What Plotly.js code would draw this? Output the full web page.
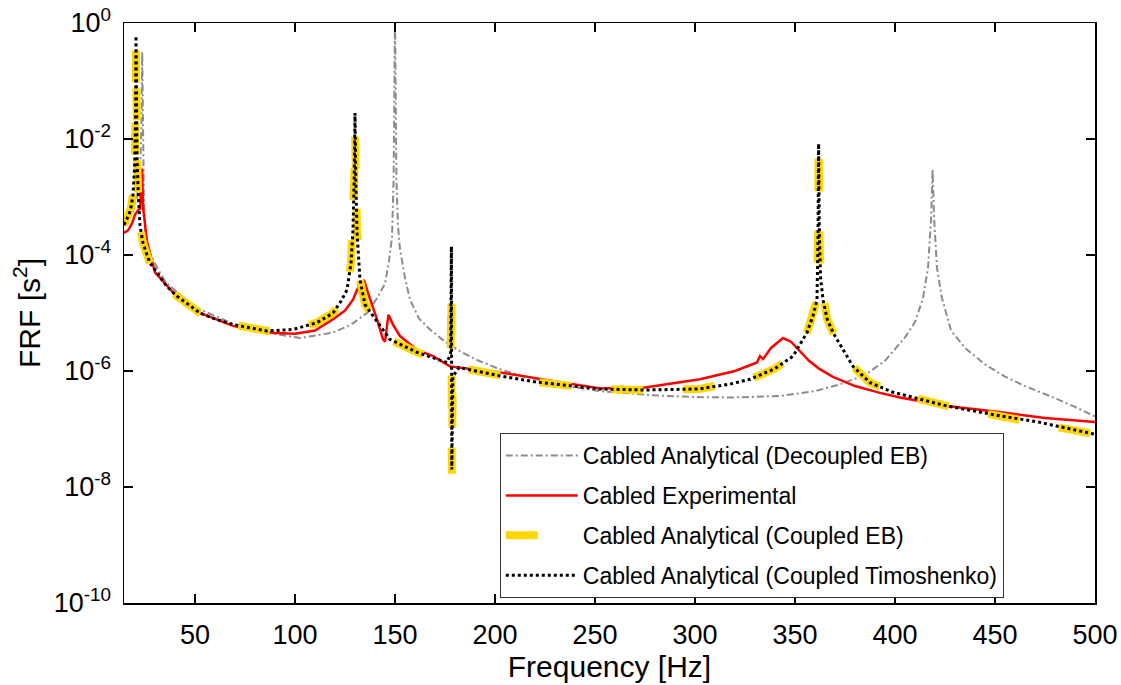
<!DOCTYPE html>
<html>
<head>
<meta charset="utf-8">
<script src="https://cdn.plot.ly/plotly-3.0.1.min.js"></script>
<style>html,body{margin:0;padding:0;background:#fff;}#chart{width:1121px;height:685px;}</style>
</head>
<body>
<div id="chart"></div>
<script>
// ---- Data ----
const seriesNames = [
  'Cabled Analytical (Decoupled EB)',
  'Cabled Experimental',
  'Cabled Analytical (Coupled EB)',
  'Cabled Analytical (Coupled Timoshenko)'
];

const freqDecoupledEB = [14.5, 17, 19, 21, 22.5, 23.2, 23.6, 24, 24.5, 25.5, 27.5, 30, 35, 41, 50, 60, 70, 86, 102.5, 119, 128, 136, 141, 145, 147, 148.5, 149.3, 150, 150.7, 151.5, 152.5, 155, 157.5, 162, 167.5, 175, 182.5, 190, 202.5, 215, 227.5, 240, 252.5, 280, 300, 319, 342.5, 360, 372.5, 385, 395, 400, 405, 410, 414, 416.5, 418, 418.8, 419.6, 421, 423.5, 428, 435, 445, 455, 465, 477.5, 490, 500];
const frfDecoupledEB = [3.2e-4, 4.0e-4, 5.6e-4, 1.0e-3, 2.5e-3, 1.6e-2, 0.32, 1.6e-2, 6.3e-4, 2.2e-4, 1.1e-4, 7.1e-5, 3.5e-5, 2.3e-5, 1.26e-5, 8.9e-6, 6.3e-6, 4.6e-6, 3.7e-6, 4.6e-6, 6.3e-6, 1.0e-5, 1.8e-5, 3.2e-5, 7.9e-5, 2.0e-4, 2.0e-3, 1.5, 2.0e-3, 3.2e-4, 1.26e-4, 4.0e-5, 1.7e-5, 8.0e-6, 5.2e-6, 3.2e-6, 2.2e-6, 1.6e-6, 1.07e-6, 8.0e-7, 6.5e-7, 5.2e-7, 4.5e-7, 3.8e-7, 3.55e-7, 3.5e-7, 3.7e-7, 4.5e-7, 5.9e-7, 8.5e-7, 1.5e-6, 2.4e-6, 3.8e-6, 7.0e-6, 1.8e-5, 6.0e-5, 4.0e-4, 3.0e-3, 4.0e-4, 6.0e-5, 1.8e-5, 5.0e-6, 2.5e-6, 1.3e-6, 8.0e-7, 5.5e-7, 3.7e-7, 2.4e-7, 1.65e-7];

const freqExperimental = [14.5, 16.7, 18.5, 20, 21.7, 22.6, 23.5, 24.1, 24.8, 25.8, 30, 41, 52.5, 69, 80, 90, 100, 110, 119, 125, 129, 131, 133, 134.5, 136, 141, 144, 145, 146.7, 149, 152.5, 161, 169, 177.5, 189, 202, 225, 252.5, 275, 302.5, 320, 331, 332.5, 334, 338, 344, 348, 352.5, 357, 362, 369, 380, 392.5, 402.5, 426, 450, 475, 500];
const frfExperimental = [2.4e-4, 2.7e-4, 3.5e-4, 5.0e-4, 6.0e-4, 6.3e-4, 3.1e-3, 6.3e-4, 4.0e-4, 1.8e-4, 5.0e-5, 1.9e-5, 1.0e-5, 6.0e-6, 5.0e-6, 4.5e-6, 4.4e-6, 5.0e-6, 7.8e-6, 1.1e-5, 1.7e-5, 2.5e-5, 3.2e-5, 3.7e-5, 2.5e-5, 7.8e-6, 3.5e-6, 3.2e-6, 9.3e-6, 6.3e-6, 4.0e-6, 2.3e-6, 1.8e-6, 1.2e-6, 1.07e-6, 9.5e-7, 7.1e-7, 5.0e-7, 5.2e-7, 7.2e-7, 1.0e-6, 1.4e-6, 1.8e-6, 1.6e-6, 2.5e-6, 3.7e-6, 3.2e-6, 2.2e-6, 1.5e-6, 1.1e-6, 7.9e-7, 5.5e-7, 4.2e-7, 3.5e-7, 2.5e-7, 2.0e-7, 1.55e-7, 1.32e-7];

const freqCoupledEB = [14.5, 16, 17, 18, 19, 19.8, 20.3, 20.5, 20.7, 21, 21.7, 22.5, 24, 27.5, 30, 35.8, 41, 52.5, 60, 69, 86, 99, 111, 119, 123, 126, 128, 129, 129.6, 130, 130.4, 131, 132.5, 135, 139, 147.5, 161, 176, 177.8, 178.2, 178.4, 178.9, 182, 202, 220, 252, 275, 302, 318, 327.5, 340, 349, 356, 359, 361, 361.5, 361.8, 362.2, 362.8, 364, 366, 369, 379, 387.5, 399, 425.8, 450, 472.5, 500];
const frfCoupledEB = [3.3e-4, 4.2e-4, 5.0e-4, 6.6e-4, 1.1e-3, 3.2e-3, 2.5e-2, 0.35, 2.5e-2, 5.0e-3, 1.0e-3, 3.2e-4, 1.6e-4, 7.2e-5, 5.6e-5, 2.9e-5, 1.95e-5, 1.0e-5, 7.9e-6, 6.3e-6, 4.9e-6, 5.2e-6, 6.8e-6, 1.0e-5, 1.6e-5, 2.5e-5, 7.2e-5, 2.7e-4, 2.0e-3, 1.3e-2, 2.0e-3, 2.5e-4, 3.7e-5, 1.4e-5, 8.9e-6, 3.5e-6, 2.1e-6, 1.4e-6, 2.0e-6, 2.5e-5, 1.7e-8, 8.0e-7, 1.15e-6, 8.3e-7, 6.5e-7, 4.9e-7, 4.7e-7, 4.9e-7, 6.0e-7, 7.2e-7, 1.1e-6, 1.8e-6, 4.6e-6, 9.0e-6, 1.7e-5, 1.8e-4, 1.0e-2, 2.0e-4, 4.0e-5, 1.7e-5, 8.0e-6, 4.6e-6, 1.2e-6, 6.3e-7, 4.3e-7, 2.5e-7, 1.75e-7, 1.3e-7, 8.1e-8];

const freqTimoshenko = [14.5, 16, 17, 18, 19, 19.8, 20.3, 20.5, 20.7, 21, 21.7, 22.5, 24, 27.5, 30, 35.8, 41, 52.5, 60, 69, 86, 99, 111, 119, 123, 126, 128, 129, 129.6, 130, 130.4, 131, 132.5, 135, 139, 147.5, 161, 176, 177.8, 178.2, 178.4, 178.9, 182, 202, 220, 252, 275, 302, 318, 327.5, 340, 349, 356, 359, 361, 361.5, 361.8, 362.2, 362.8, 364, 366, 369, 379, 387.5, 399, 425.8, 450, 472.5, 500];
const frfTimoshenko = [3.3e-4, 4.2e-4, 5.0e-4, 6.6e-4, 1.1e-3, 3.2e-3, 2.5e-2, 0.6, 2.5e-2, 5.0e-3, 1.0e-3, 3.2e-4, 1.6e-4, 7.2e-5, 5.6e-5, 2.9e-5, 1.95e-5, 1.0e-5, 7.9e-6, 6.3e-6, 4.9e-6, 5.2e-6, 6.8e-6, 1.0e-5, 1.6e-5, 2.5e-5, 7.2e-5, 2.7e-4, 2.0e-3, 2.8e-2, 2.0e-3, 2.5e-4, 3.7e-5, 1.4e-5, 8.9e-6, 3.5e-6, 2.1e-6, 1.4e-6, 2.0e-6, 1.4e-4, 2.0e-8, 8.0e-7, 1.15e-6, 8.3e-7, 6.5e-7, 4.9e-7, 4.7e-7, 4.9e-7, 6.0e-7, 7.2e-7, 1.1e-6, 1.8e-6, 4.6e-6, 9.0e-6, 1.7e-5, 1.8e-4, 8.3e-3, 2.0e-4, 4.0e-5, 1.7e-5, 8.0e-6, 4.6e-6, 1.2e-6, 6.3e-7, 4.3e-7, 2.5e-7, 1.75e-7, 1.3e-7, 8.1e-8];

const xTickVals = [50, 100, 150, 200, 250, 300, 350, 400, 450, 500];
const yTickVals = [1, 1e-2, 1e-4, 1e-6, 1e-8, 1e-10];
const yTickText = ['10<sup>0</sup>', '10<sup>-2</sup>', '10<sup>-4</sup>', '10<sup>-6</sup>', '10<sup>-8</sup>', '10<sup>-10</sup>'];

const FONT = 'Liberation Sans, Arial, Helvetica, sans-serif';

const traces = [
  {x: freqDecoupledEB, y: frfDecoupledEB, name: seriesNames[0], mode: 'lines', legendgroup: 'a',
   line: {color: '#8c8c8c', width: 2, dash: '7px,3px,2px,3px'}},
  {x: freqExperimental, y: frfExperimental, name: seriesNames[1], mode: 'lines', legendgroup: 'b',
   line: {color: '#ff0000', width: 2.5}},
  {x: freqCoupledEB, y: frfCoupledEB, name: seriesNames[2], mode: 'lines', legendgroup: 'c',
   line: {color: '#ffd700', width: 8, dash: '32px,40px'}},
  {x: freqTimoshenko, y: frfTimoshenko, name: seriesNames[3], mode: 'lines', legendgroup: 'd',
   line: {color: '#000000', width: 3, dash: 'dot'}}
];

const layout = {
  width: 1121, height: 685,
  margin: {l: 124, r: 26, t: 23, b: 82},
  paper_bgcolor: '#ffffff', plot_bgcolor: '#ffffff',
  font: {family: FONT, color: '#000000'},
  showlegend: true,
  legend: {
    x: 0.387, y: 0.293, xanchor: 'left', yanchor: 'top',
    bgcolor: '#ffffff', bordercolor: '#333333', borderwidth: 1,
    font: {family: FONT, size: 23, color: '#000000'},
    itemwidth: 72, tracegroupgap: 7, traceorder: 'grouped'
  },
  xaxis: {
    range: [14.5, 500], tickmode: 'array', tickvals: xTickVals,
    ticks: 'inside', ticklen: 9, tickwidth: 1.5, tickcolor: '#000',
    showline: true, linecolor: '#000', linewidth: 1.5, mirror: 'ticks',
    showgrid: false, zeroline: false,
    tickfont: {family: FONT, size: 27}, ticklabelstandoff: 7,
    title: {text: 'Frequency [Hz]', font: {family: FONT, size: 30}, standoff: 0}
  },
  yaxis: {
    type: 'log', range: [-10, 0], tickmode: 'array', tickvals: yTickVals, ticktext: yTickText,
    ticks: 'inside', ticklen: 9, tickwidth: 1.5, tickcolor: '#000',
    showline: true, linecolor: '#000', linewidth: 1.5, mirror: 'ticks',
    showgrid: false, zeroline: false,
    tickfont: {family: FONT, size: 27}, ticklabelstandoff: 6,
    title: {text: 'FRF [s<sup>2</sup>]', font: {family: FONT, size: 30}, standoff: 4}
  }
};

Plotly.newPlot('chart', traces, layout, {displayModeBar: false, staticPlot: true});
</script>
</body>
</html>
